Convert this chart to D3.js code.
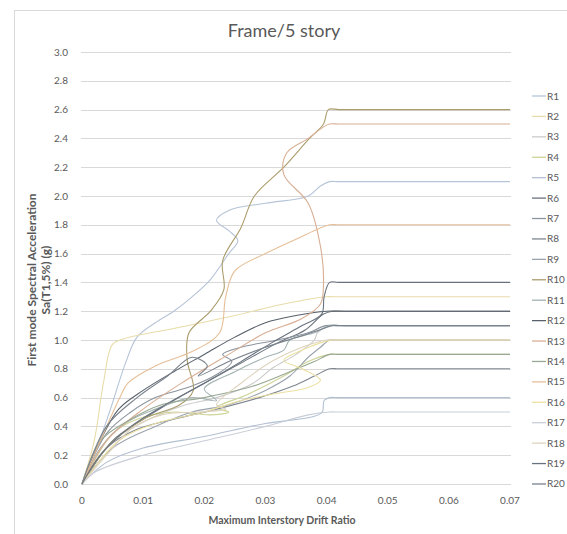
<!DOCTYPE html>
<html>
<head>
<meta charset="utf-8">
<script src="https://cdn.jsdelivr.net/npm/d3@7/dist/d3.min.js"></script>
<style>
  body { margin: 0; background: #fff; }
  svg { font-family: Lato, "Open Sans", sans-serif; }
  .tick-label { fill: #595959; font-size: 10px; }
  .axis-title { fill: #595959; font-weight: bold; }
</style>
</head>
<body>
<div id="chart"></div>
<script>
// drift ratio / Sa(T1,5%) pairs for each record
var R1 = [[0,0],[0.002,0.2],[0.0045,0.5],[0.0072,0.85],[0.009,1.02],[0.012,1.12],[0.015,1.2],[0.018,1.3],[0.021,1.42],[0.024,1.6],[0.0255,1.69],[0.024,1.76],[0.022,1.83],[0.024,1.9],[0.03,1.95],[0.037,2.0],[0.039,2.07],[0.0405,2.1],[0.042,2.1],[0.05,2.1],[0.06,2.1],[0.07,2.1]];
var R2 = [[0,0],[0.002,0.3],[0.0035,0.7],[0.005,0.97],[0.007,1.01],[0.015,1.08],[0.025,1.17],[0.033,1.25],[0.04,1.3],[0.042,1.3],[0.05,1.3],[0.06,1.3],[0.07,1.3]];
var R3 = [[0,0],[0.005,0.3],[0.011,0.45],[0.017,0.55],[0.022,0.6],[0.028,0.7],[0.031,0.8],[0.035,0.9],[0.038,1.0],[0.0385,1.05],[0.0405,1.1],[0.042,1.1],[0.05,1.1],[0.06,1.1],[0.07,1.1]];
var R4 = [[0,0],[0.005,0.35],[0.009,0.45],[0.015,0.5],[0.021,0.48],[0.024,0.5],[0.022,0.53],[0.027,0.62],[0.033,0.75],[0.037,0.85],[0.0405,0.9],[0.042,0.9],[0.05,0.9],[0.06,0.9],[0.07,0.9]];
var R5 = [[0,0],[0.004,0.15],[0.01,0.25],[0.02,0.33],[0.03,0.42],[0.038,0.47],[0.0393,0.5],[0.0396,0.58],[0.0405,0.6],[0.042,0.6],[0.05,0.6],[0.06,0.6],[0.07,0.6]];
var R6 = [[0,0],[0.005,0.3],[0.01,0.45],[0.015,0.58],[0.02,0.7],[0.026,0.84],[0.032,0.98],[0.0365,1.07],[0.0395,1.18],[0.041,1.2],[0.043,1.2],[0.05,1.2],[0.06,1.2],[0.07,1.2]];
var R7 = [[0,0],[0.004,0.35],[0.008,0.5],[0.012,0.6],[0.018,0.68],[0.022,0.76],[0.0245,0.85],[0.023,0.9],[0.026,0.95],[0.032,1.0],[0.037,1.05],[0.0398,1.1],[0.042,1.1],[0.05,1.1],[0.06,1.1],[0.07,1.1]];
var R8 = [[0,0],[0.004,0.25],[0.009,0.38],[0.015,0.45],[0.022,0.52],[0.029,0.6],[0.0345,0.68],[0.038,0.75],[0.0405,0.8],[0.042,0.8],[0.05,0.8],[0.06,0.8],[0.07,0.8]];
var R9 = [[0,0],[0.005,0.25],[0.012,0.4],[0.018,0.5],[0.024,0.55],[0.03,0.65],[0.034,0.75],[0.037,0.88],[0.039,0.95],[0.0405,1.0],[0.042,1.0],[0.05,1.0],[0.06,1.0],[0.07,1.0]];
var R10 = [[0,0],[0.004,0.25],[0.01,0.45],[0.016,0.55],[0.0182,0.65],[0.0172,0.86],[0.0175,1.05],[0.021,1.2],[0.0232,1.35],[0.023,1.55],[0.026,1.78],[0.0282,2.0],[0.033,2.2],[0.0372,2.4],[0.0395,2.5],[0.0403,2.6],[0.042,2.6],[0.05,2.6],[0.06,2.6],[0.07,2.6]];
var R11 = [[0,0],[0.003,0.25],[0.007,0.42],[0.012,0.52],[0.018,0.6],[0.022,0.58],[0.02,0.66],[0.025,0.78],[0.03,0.88],[0.033,0.93],[0.034,1.0],[0.038,1.05],[0.0405,1.1],[0.042,1.1],[0.05,1.1],[0.06,1.1],[0.07,1.1]];
var R12 = [[0,0],[0.003,0.3],[0.006,0.52],[0.01,0.65],[0.015,0.78],[0.02,0.9],[0.025,1.02],[0.03,1.12],[0.035,1.17],[0.04,1.2],[0.042,1.2],[0.05,1.2],[0.06,1.2],[0.07,1.2]];
var R13 = [[0,0],[0.004,0.3],[0.01,0.52],[0.017,0.72],[0.024,0.9],[0.03,1.05],[0.036,1.15],[0.039,1.25],[0.0395,1.4],[0.039,1.65],[0.037,1.95],[0.033,2.15],[0.0335,2.3],[0.037,2.4],[0.0395,2.48],[0.0405,2.5],[0.042,2.5],[0.05,2.5],[0.06,2.5],[0.07,2.5]];
var R14 = [[0,0],[0.003,0.3],[0.008,0.45],[0.013,0.55],[0.02,0.6],[0.028,0.68],[0.034,0.78],[0.038,0.85],[0.0405,0.9],[0.042,0.9],[0.05,0.9],[0.06,0.9],[0.07,0.9]];
var R15 = [[0,0],[0.003,0.3],[0.0062,0.6],[0.0075,0.7],[0.012,0.82],[0.018,0.92],[0.0225,1.05],[0.0235,1.3],[0.025,1.48],[0.03,1.6],[0.035,1.7],[0.0405,1.8],[0.042,1.8],[0.05,1.8],[0.06,1.8],[0.07,1.8]];
var R16 = [[0,0],[0.006,0.3],[0.012,0.42],[0.02,0.5],[0.026,0.58],[0.032,0.63],[0.037,0.67],[0.039,0.72],[0.036,0.8],[0.033,0.86],[0.036,0.93],[0.039,0.98],[0.041,1.0],[0.043,1.0],[0.05,1.0],[0.06,1.0],[0.07,1.0]];
var R17 = [[0,0],[0.002,0.08],[0.01,0.2],[0.02,0.3],[0.03,0.4],[0.037,0.48],[0.0405,0.5],[0.042,0.5],[0.05,0.5],[0.06,0.5],[0.07,0.5]];
var R18 = [[0,0],[0.004,0.2],[0.008,0.38],[0.013,0.48],[0.019,0.5],[0.0235,0.52],[0.022,0.55],[0.026,0.7],[0.031,0.85],[0.036,0.95],[0.04,1.0],[0.042,1.0],[0.05,1.0],[0.06,1.0],[0.07,1.0]];
var R19 = [[0,0],[0.003,0.2],[0.008,0.4],[0.014,0.56],[0.02,0.7],[0.026,0.85],[0.031,0.98],[0.036,1.1],[0.0392,1.18],[0.0396,1.3],[0.0405,1.4],[0.042,1.4],[0.05,1.4],[0.06,1.4],[0.07,1.4]];
var R20 = [[0,0],[0.004,0.4],[0.009,0.6],[0.014,0.75],[0.018,0.88],[0.0205,0.82],[0.019,0.75],[0.024,0.85],[0.03,0.95],[0.036,1.03],[0.0395,1.08],[0.041,1.1],[0.043,1.1],[0.05,1.1],[0.06,1.1],[0.07,1.1]];

var names = ['R1','R2','R3','R4','R5','R6','R7','R8','R9','R10','R11','R12','R13','R14','R15','R16','R17','R18','R19','R20'];
var records = [R1,R2,R3,R4,R5,R6,R7,R8,R9,R10,R11,R12,R13,R14,R15,R16,R17,R18,R19,R20];
var xTicks = [0, 0.01, 0.02, 0.03, 0.04, 0.05, 0.06, 0.07];
var yTicks = [0, 0.2, 0.4, 0.6, 0.8, 1.0, 1.2, 1.4, 1.6, 1.8, 2.0, 2.2, 2.4, 2.6, 2.8, 3.0];

var colors = ['#b6c4d8','#e8dcaa','#cbcbcb','#cdd496','#b3c0d2','#6c747e','#8c949e','#7f8690',
              '#9aa3ad','#ab9c6c','#a3b2b2','#58606a','#d9ae94','#98a893','#e6bf98','#ebe0a2',
              '#c8ced8','#ded3bd','#68727e','#7a828c'];

var width = 567,
    height = 534;

var svg = d3.select('#chart')
    .append('svg')
    .attr('width', width)
    .attr('height', height);

// chart frame
svg.append('rect')
    .attr('x', 14.5)
    .attr('y', 10.5)
    .attr('width', 600)
    .attr('height', 600)
    .attr('fill', 'none')
    .attr('stroke', '#d9d9d9');

svg.append('text')
    .attr('x', 284)
    .attr('y', 37)
    .attr('text-anchor', 'middle')
    .attr('fill', '#595959')
    .style('font-size', '18px')
    .text('Frame/5 story');

var xScale = d3.scaleLinear().domain([0, 0.07]).range([82, 510]);
var yScale = d3.scaleLinear().domain([0, 3]).range([484, 52]);

// horizontal gridlines
svg.append('g')
    .selectAll('line')
    .data(yTicks)
    .enter()
    .append('line')
    .attr('x1', 81)
    .attr('x2', 511)
    .attr('y1', function (d) { return Math.round(yScale(d)) + 0.5; })
    .attr('y2', function (d) { return Math.round(yScale(d)) + 0.5; })
    .attr('stroke', '#d9d9d9')
    .attr('stroke-width', 1);

svg.append('g')
    .selectAll('text')
    .data(yTicks)
    .enter()
    .append('text')
    .attr('class', 'tick-label')
    .attr('x', 68)
    .attr('y', function (d) { return yScale(d) + 3.5; })
    .attr('text-anchor', 'end')
    .text(function (d) { return d.toFixed(1); });

svg.append('g')
    .selectAll('text')
    .data(xTicks)
    .enter()
    .append('text')
    .attr('class', 'tick-label')
    .attr('x', function (d) { return xScale(d); })
    .attr('y', 504)
    .attr('text-anchor', 'middle')
    .text(function (d) { return d === 0 ? '0' : d.toFixed(2); });

// axis titles
svg.append('text')
    .attr('class', 'axis-title')
    .attr('x', 282)
    .attr('y', 524)
    .attr('text-anchor', 'middle')
    .style('font-size', '10.5px')
    .text('Maximum  Interstory Drift Ratio');

var yTitle = svg.append('text')
    .attr('class', 'axis-title')
    .attr('transform', 'translate(36, 280) rotate(-90)')
    .attr('text-anchor', 'middle')
    .style('font-size', '12px');
yTitle.append('tspan').attr('x', 0).attr('y', 0).text('First  mode Spectral Acceleration');
yTitle.append('tspan').attr('x', 0).attr('y', 14).text('Sa(T1,5%) (g)');

var line = d3.line()
    .x(function (d) { return xScale(d[0]); })
    .y(function (d) { return yScale(d[1]); })
    .curve(d3.curveCatmullRom.alpha(0.5));

svg.append('g')
    .selectAll('path')
    .data(records)
    .enter()
    .append('path')
    .attr('d', line)
    .attr('fill', 'none')
    .attr('stroke', function (d, i) { return colors[i]; })
    .attr('stroke-width', 1.1);

// legend
var legend = svg.append('g')
    .selectAll('g')
    .data(names)
    .enter()
    .append('g')
    .attr('transform', function (d, i) { return 'translate(532,' + (96 + i * 20.42) + ')'; });

legend.append('line')
    .attr('x1', 0)
    .attr('x2', 14)
    .attr('stroke', function (d, i) { return colors[i]; })
    .attr('stroke-width', 1.3);

legend.append('text')
    .attr('class', 'tick-label')
    .attr('x', 15)
    .attr('y', 3.5)
    .text(function (d) { return d; });
</script>
</body>
</html>
